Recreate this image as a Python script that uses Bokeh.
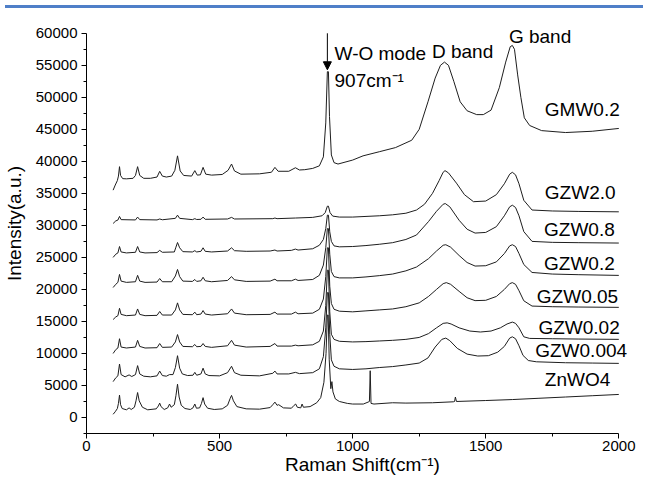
from bokeh.plotting import figure
from bokeh.models import Label, Arrow, NormalHead, FixedTicker, Range1d, Div
from bokeh.layouts import column
from bokeh.embed import file_html
from bokeh.resources import INLINE

# ---------------- data ----------------
X_TICKS = [0, 500, 1000, 1500, 2000]
X_MINOR = [250, 750, 1250, 1750]
Y_TICKS = [0, 5000, 10000, 15000, 20000, 25000, 30000, 35000, 40000,
           45000, 50000, 55000, 60000]
Y_MINOR = [-2500, 2500, 7500, 12500, 17500, 22500, 27500, 32500, 37500,
           42500, 47500, 52500, 57500]
X_AXIS_SPAN = (0, 2000)
Y_AXIS_SPAN = (-2500, 60000)

ZNWO4 = [(100, 500), (108, 900), (116, 1400), (120, 2200), (124, 3500), (128, 2000),
         (134, 1400), (150, 1200), (160, 1500), (168, 1250), (180, 1600), (186, 2600),
         (192, 3900), (198, 2600), (210, 1600), (230, 1200), (262, 1350), (270, 1800),
         (275, 2250), (280, 1700), (292, 1250), (305, 1500), (312, 2100), (318, 1600),
         (330, 2000), (336, 3400), (342, 5200), (348, 3200), (356, 1900), (370, 1400),
         (390, 1250), (400, 1500), (407, 2100), (413, 1450), (425, 1500), (432, 2200),
         (438, 3100), (444, 2100), (455, 1450), (480, 1250), (510, 1350), (530, 1900),
         (540, 3000), (545, 3450), (552, 2600), (565, 1700), (600, 1350), (650, 1300),
         (690, 1550), (700, 2000), (708, 2400), (716, 1900), (722, 2000), (740, 1500),
         (770, 1450), (780, 1900), (786, 2100), (792, 1600), (805, 1500), (810, 2100),
         (815, 1600), (840, 1700), (865, 2300), (880, 3100), (892, 5500), (900, 10000),
         (905, 16000), (908, 16000), (912, 9000), (918, 4500), (922, 5600), (926, 4000),
         (935, 2900), (950, 2500), (980, 2200), (1000, 2100), (1040, 2100), (1058, 2400),
         (1063, 2500), (1066, 7300), (1069, 2200), (1080, 2100), (1150, 2300), (1200, 2250),
         (1300, 2300), (1378, 2450), (1383, 2500), (1386, 3200), (1390, 2500), (1500, 2650),
         (1600, 2800), (1700, 3000), (1800, 3200), (1900, 3400), (2000, 3600)]

GZW0_004 = [(100, 5600), (110, 6200), (118, 6500), (124, 8350), (130, 6700), (145, 6350),
            (160, 6650), (170, 6400), (184, 6700), (192, 8100), (200, 6800), (215, 6450),
            (240, 6350), (265, 6500), (275, 7250), (285, 6550), (300, 6450), (312, 6700),
            (325, 6700), (334, 7800), (342, 9650), (350, 7700), (360, 6800), (380, 6550),
            (400, 6600), (407, 7050), (414, 6600), (430, 6800), (438, 7700), (446, 6800),
            (460, 6550), (500, 6500), (530, 7000), (545, 8000), (556, 7000), (580, 6600),
            (650, 6500), (700, 6900), (708, 7250), (716, 6800), (760, 6800), (785, 7050),
            (800, 6850), (850, 7000), (875, 7600), (890, 9500), (899, 14000), (905, 19500),
            (909, 19500), (914, 13000), (920, 9000), (930, 8000), (950, 7600), (1000, 7500),
            (1050, 7600), (1100, 7800), (1150, 7950), (1200, 8200), (1250, 8500), (1283, 9300),
            (1310, 11000), (1335, 12200), (1350, 12400), (1365, 12000), (1393, 10800),
            (1430, 9900), (1470, 9600), (1510, 9650), (1545, 10200), (1570, 11100),
            (1590, 12400), (1600, 12600), (1612, 12300), (1625, 11200), (1640, 9700),
            (1660, 8900), (1690, 8700), (1800, 8550), (1900, 8500), (2000, 8450)]

GZW0_02 = [(100, 10000), (110, 10600), (118, 10850), (124, 12300), (130, 11000), (150, 10850),
           (184, 11000), (192, 12050), (200, 11100), (220, 10850), (265, 10900), (275, 11550),
           (285, 10950), (320, 11000), (334, 11800), (342, 12950), (350, 11800), (362, 11100),
           (398, 11050), (407, 11400), (414, 11050), (430, 11100), (438, 11550), (446, 11100),
           (470, 10950), (530, 11200), (545, 12050), (556, 11300), (600, 11000), (690, 11100),
           (708, 11550), (716, 11150), (770, 11150), (785, 11300), (795, 11200), (850, 11350),
           (875, 11900), (890, 13500), (899, 17500), (905, 23000), (909, 23000), (914, 16500),
           (920, 13000), (930, 12200), (950, 11900), (1000, 11800), (1050, 11850), (1100, 11950),
           (1150, 12050), (1200, 12200), (1250, 12500), (1285, 13100), (1315, 14000),
           (1340, 14700), (1355, 14780), (1370, 14600), (1400, 14000), (1440, 13500),
           (1480, 13350), (1520, 13500), (1555, 14000), (1580, 14600), (1600, 14900),
           (1612, 14700), (1625, 14000), (1643, 12600), (1665, 12350), (1750, 12300),
           (1850, 12250), (2000, 12200)]

GZW0_05 = [(100, 15300), (110, 15700), (118, 15900), (124, 17050), (130, 16100), (150, 15900),
           (184, 16000), (192, 16950), (200, 16100), (220, 15900), (265, 15950), (275, 16550),
           (285, 16000), (320, 16000), (334, 16800), (342, 17900), (350, 16800), (362, 16100),
           (398, 16050), (407, 16450), (414, 16050), (430, 16150), (438, 16700), (446, 16150),
           (470, 16000), (530, 16200), (545, 16950), (556, 16300), (600, 16050), (690, 16100),
           (708, 16450), (716, 16150), (770, 16150), (785, 16450), (795, 16200), (850, 16300),
           (875, 16900), (890, 18500), (899, 22000), (905, 26500), (909, 26500), (914, 20500),
           (920, 17800), (930, 16900), (950, 16600), (1000, 16500), (1050, 16650), (1100, 16800),
           (1150, 16950), (1200, 17300), (1250, 17900), (1285, 18900), (1315, 20000),
           (1340, 20900), (1352, 21060), (1368, 20800), (1400, 19700), (1430, 18700),
           (1460, 18250), (1500, 18300), (1540, 18900), (1570, 20000), (1590, 20900),
           (1600, 21060), (1612, 20800), (1625, 19800), (1643, 18230), (1674, 17400),
           (1750, 17300), (1850, 17250), (2000, 17200)]

GZW0_2 = [(100, 20300), (110, 20800), (118, 21100), (124, 22340), (130, 21300), (150, 21100),
          (184, 21200), (192, 22200), (200, 21300), (220, 21100), (265, 21150), (275, 21700),
          (285, 21200), (320, 21200), (334, 22100), (342, 23120), (350, 22000), (362, 21300),
          (398, 21250), (407, 21550), (414, 21250), (430, 21350), (438, 21900), (446, 21350),
          (470, 21200), (530, 21400), (545, 22000), (556, 21500), (600, 21250), (690, 21300),
          (708, 21600), (716, 21350), (770, 21350), (785, 21600), (795, 21400), (850, 21550),
          (875, 22200), (890, 23800), (899, 26500), (905, 29500), (909, 29500), (914, 25500),
          (920, 22800), (930, 22000), (950, 21800), (1000, 21800), (1050, 21950), (1100, 22150),
          (1150, 22400), (1200, 22900), (1240, 23500), (1285, 24800), (1315, 26000),
          (1340, 26900), (1350, 26980), (1368, 26600), (1400, 25300), (1430, 24200),
          (1460, 23650), (1500, 23700), (1540, 24300), (1570, 25600), (1590, 26800),
          (1600, 26980), (1612, 26700), (1625, 25600), (1643, 23890), (1674, 22650),
          (1750, 22400), (1850, 22300), (2000, 22190)]

GZW0_8 = [(100, 25000), (110, 25500), (118, 25700), (124, 26700), (130, 25850), (150, 25700),
          (184, 25800), (192, 26700), (200, 25850), (220, 25700), (265, 25750), (275, 26100),
          (285, 25800), (330, 25850), (336, 26600), (342, 27330), (350, 26500), (362, 25900),
          (398, 25850), (407, 26050), (414, 25850), (430, 25950), (438, 26500), (446, 25950),
          (470, 25850), (530, 26000), (545, 26500), (556, 26050), (600, 25950), (690, 26000),
          (708, 26150), (716, 26000), (770, 26100), (785, 26300), (795, 26150), (850, 26350),
          (875, 26900), (890, 27800), (899, 29500), (905, 31600), (909, 31600), (914, 29000),
          (920, 27500), (930, 26800), (950, 26650), (1000, 26700), (1050, 26850), (1100, 27050),
          (1150, 27300), (1200, 27800), (1240, 28500), (1285, 30600), (1315, 32200),
          (1340, 33300), (1348, 33410), (1365, 32900), (1400, 30800), (1430, 29400),
          (1460, 28800), (1500, 28900), (1540, 29800), (1570, 31500), (1590, 32900),
          (1600, 33150), (1612, 32800), (1625, 31500), (1643, 29030), (1674, 27500),
          (1750, 27350), (1850, 27300), (2000, 27240)]

GZW2_0 = [(100, 30300), (110, 30700), (118, 30830), (124, 31400), (130, 30900), (184, 30850),
          (192, 31300), (200, 30900), (265, 30850), (275, 31000), (285, 30880), (334, 31100),
          (342, 31600), (350, 31100), (398, 30900), (407, 31050), (414, 30920), (430, 30950),
          (438, 31300), (446, 30950), (530, 31000), (545, 31250), (556, 31000), (700, 31050),
          (708, 31150), (716, 31050), (785, 31150), (850, 31250), (885, 31500), (897, 32000),
          (905, 33000), (909, 33000), (915, 32000), (925, 31450), (950, 31300), (1000, 31300),
          (1100, 31500), (1150, 31650), (1200, 31900), (1240, 32400), (1270, 33300),
          (1300, 35000), (1325, 37000), (1340, 38300), (1347, 38550), (1360, 38200),
          (1390, 36600), (1420, 34800), (1454, 33700), (1500, 33800), (1540, 34800),
          (1570, 36500), (1590, 38000), (1600, 38290), (1612, 37900), (1625, 36500),
          (1643, 33920), (1674, 32400), (1750, 32250), (1850, 32180), (2000, 32120)]

GMW0_2 = [(100, 35500), (108, 36300), (116, 37000), (120, 37700), (124, 39170), (128, 37800),
          (136, 37300), (150, 37270), (175, 37350), (184, 37800), (192, 39170), (200, 37800),
          (215, 37350), (240, 37350), (265, 37550), (275, 38440), (285, 37700), (300, 37550),
          (320, 37700), (332, 38600), (342, 40860), (352, 38500), (365, 37800), (395, 37700),
          (407, 38550), (416, 37850), (428, 37900), (438, 39060), (448, 38000), (470, 37850),
          (510, 37950), (532, 38600), (545, 39580), (556, 38500), (580, 38000), (650, 38050),
          (695, 38300), (708, 39060), (720, 38450), (760, 38450), (785, 39000), (800, 38650),
          (820, 38700), (850, 38900), (875, 39300), (890, 40700), (899, 46000), (905, 54000),
          (909, 54000), (913, 47000), (920, 41000), (930, 39800), (945, 39580), (1000, 40200),
          (1039, 40860), (1100, 41500), (1161, 42150), (1222, 43300), (1250, 45000),
          (1283, 49300), (1310, 53000), (1330, 55000), (1345, 55500), (1360, 55000),
          (1380, 52500), (1404, 49300), (1430, 47900), (1466, 47300), (1491, 47300),
          (1520, 48000), (1551, 51500), (1575, 55500), (1592, 57900), (1600, 58100),
          (1608, 57500), (1620, 53500), (1632, 50000), (1645, 46800), (1665, 45600),
          (1710, 44800), (1800, 44500), (1900, 44700), (2000, 45140)]

SERIES = [ZNWO4, GZW0_004, GZW0_02, GZW0_05, GZW0_2, GZW0_8, GZW2_0, GMW0_2]

# labels: (text, x, y) in data units
SERIES_LABELS = [("GMW0.2", 1722, 48100), ("GZW2.0", 1722, 35200), ("GZW0.8", 1719, 29300),
                 ("GZW0.2", 1719, 24050), ("GZW0.05", 1692, 18900), ("GZW0.02", 1698, 14100),
                 ("GZW0.004", 1686, 10500), ("ZnWO4", 1722, 5900)]
BAND_LABELS = [("W-O mode", 932, 56900), ("907cm\u207b\u00b9", 932, 52600),
               ("D band", 1298, 57100), ("G band", 1587, 59450)]
ARROW_X = 905
ARROW_Y = (60000, 54300)

FONT = "Liberation Sans"

# ---------------- figure ----------------
# frame is a bit larger than the drawn axes so that the annotations near the
# top and right edges are not clipped; axis lines are limited with `bounds`.
p = figure(width=638, height=464, x_range=Range1d(0, 2074), y_range=Range1d(-2500, 63090),
           output_backend="svg", toolbar_location=None,
           min_border_left=81, min_border_right=0, min_border_top=0, min_border_bottom=40,
           background_fill_color="white", border_fill_color="white")
p.xgrid.visible = False
p.ygrid.visible = False
p.outline_line_color = None

for data in SERIES:
    xs = [d[0] for d in data]
    ys = [d[1] for d in data]
    p.line(xs, ys, line_color="#1e1e1e", line_width=1)

p.xaxis.ticker = FixedTicker(ticks=X_TICKS, minor_ticks=X_MINOR)
p.yaxis.ticker = FixedTicker(ticks=Y_TICKS, minor_ticks=Y_MINOR)
p.xaxis.bounds = X_AXIS_SPAN
p.yaxis.bounds = Y_AXIS_SPAN
for ax in (p.xaxis[0], p.yaxis[0]):
    ax.axis_line_color = "black"
    ax.axis_line_width = 1
    ax.major_tick_in = 0
    ax.major_tick_out = 5
    ax.minor_tick_in = 0
    ax.minor_tick_out = 3
    ax.major_tick_line_color = "black"
    ax.minor_tick_line_color = "black"
    ax.major_label_text_font = FONT
    ax.major_label_text_font_size = "15px"
    ax.major_label_text_color = "black"
    ax.axis_label_text_font = FONT
    ax.axis_label_text_font_size = "19px"
    ax.axis_label_text_font_style = "normal"
    ax.axis_label_text_color = "black"
p.xaxis.axis_label = "Raman Shift(cm\u207b\u00b9)"
p.yaxis.axis_label = "Intensity(a.u.)"
p.xaxis.major_label_standoff = 2
p.xaxis.axis_label_standoff = 0
p.yaxis.major_label_standoff = 4
p.yaxis.axis_label_standoff = 8

for txt, x, y in SERIES_LABELS + BAND_LABELS:
    p.add_layout(Label(x=x, y=y, text=txt, text_font=FONT, text_font_size="19px",
                       text_color="black", text_align="left", text_baseline="middle"))

p.add_layout(Arrow(x_start=ARROW_X, y_start=ARROW_Y[0], x_end=ARROW_X, y_end=ARROW_Y[1],
                   line_color="black", line_width=1,
                   end=NormalHead(size=8, fill_color="black", line_color="black")))

bar = Div(text="", width=638, height=3, styles={"background-color": "#4F7FC8"})
layout = column(bar, p, spacing=0)

open("out.html", "w").write(file_html(layout, INLINE))
